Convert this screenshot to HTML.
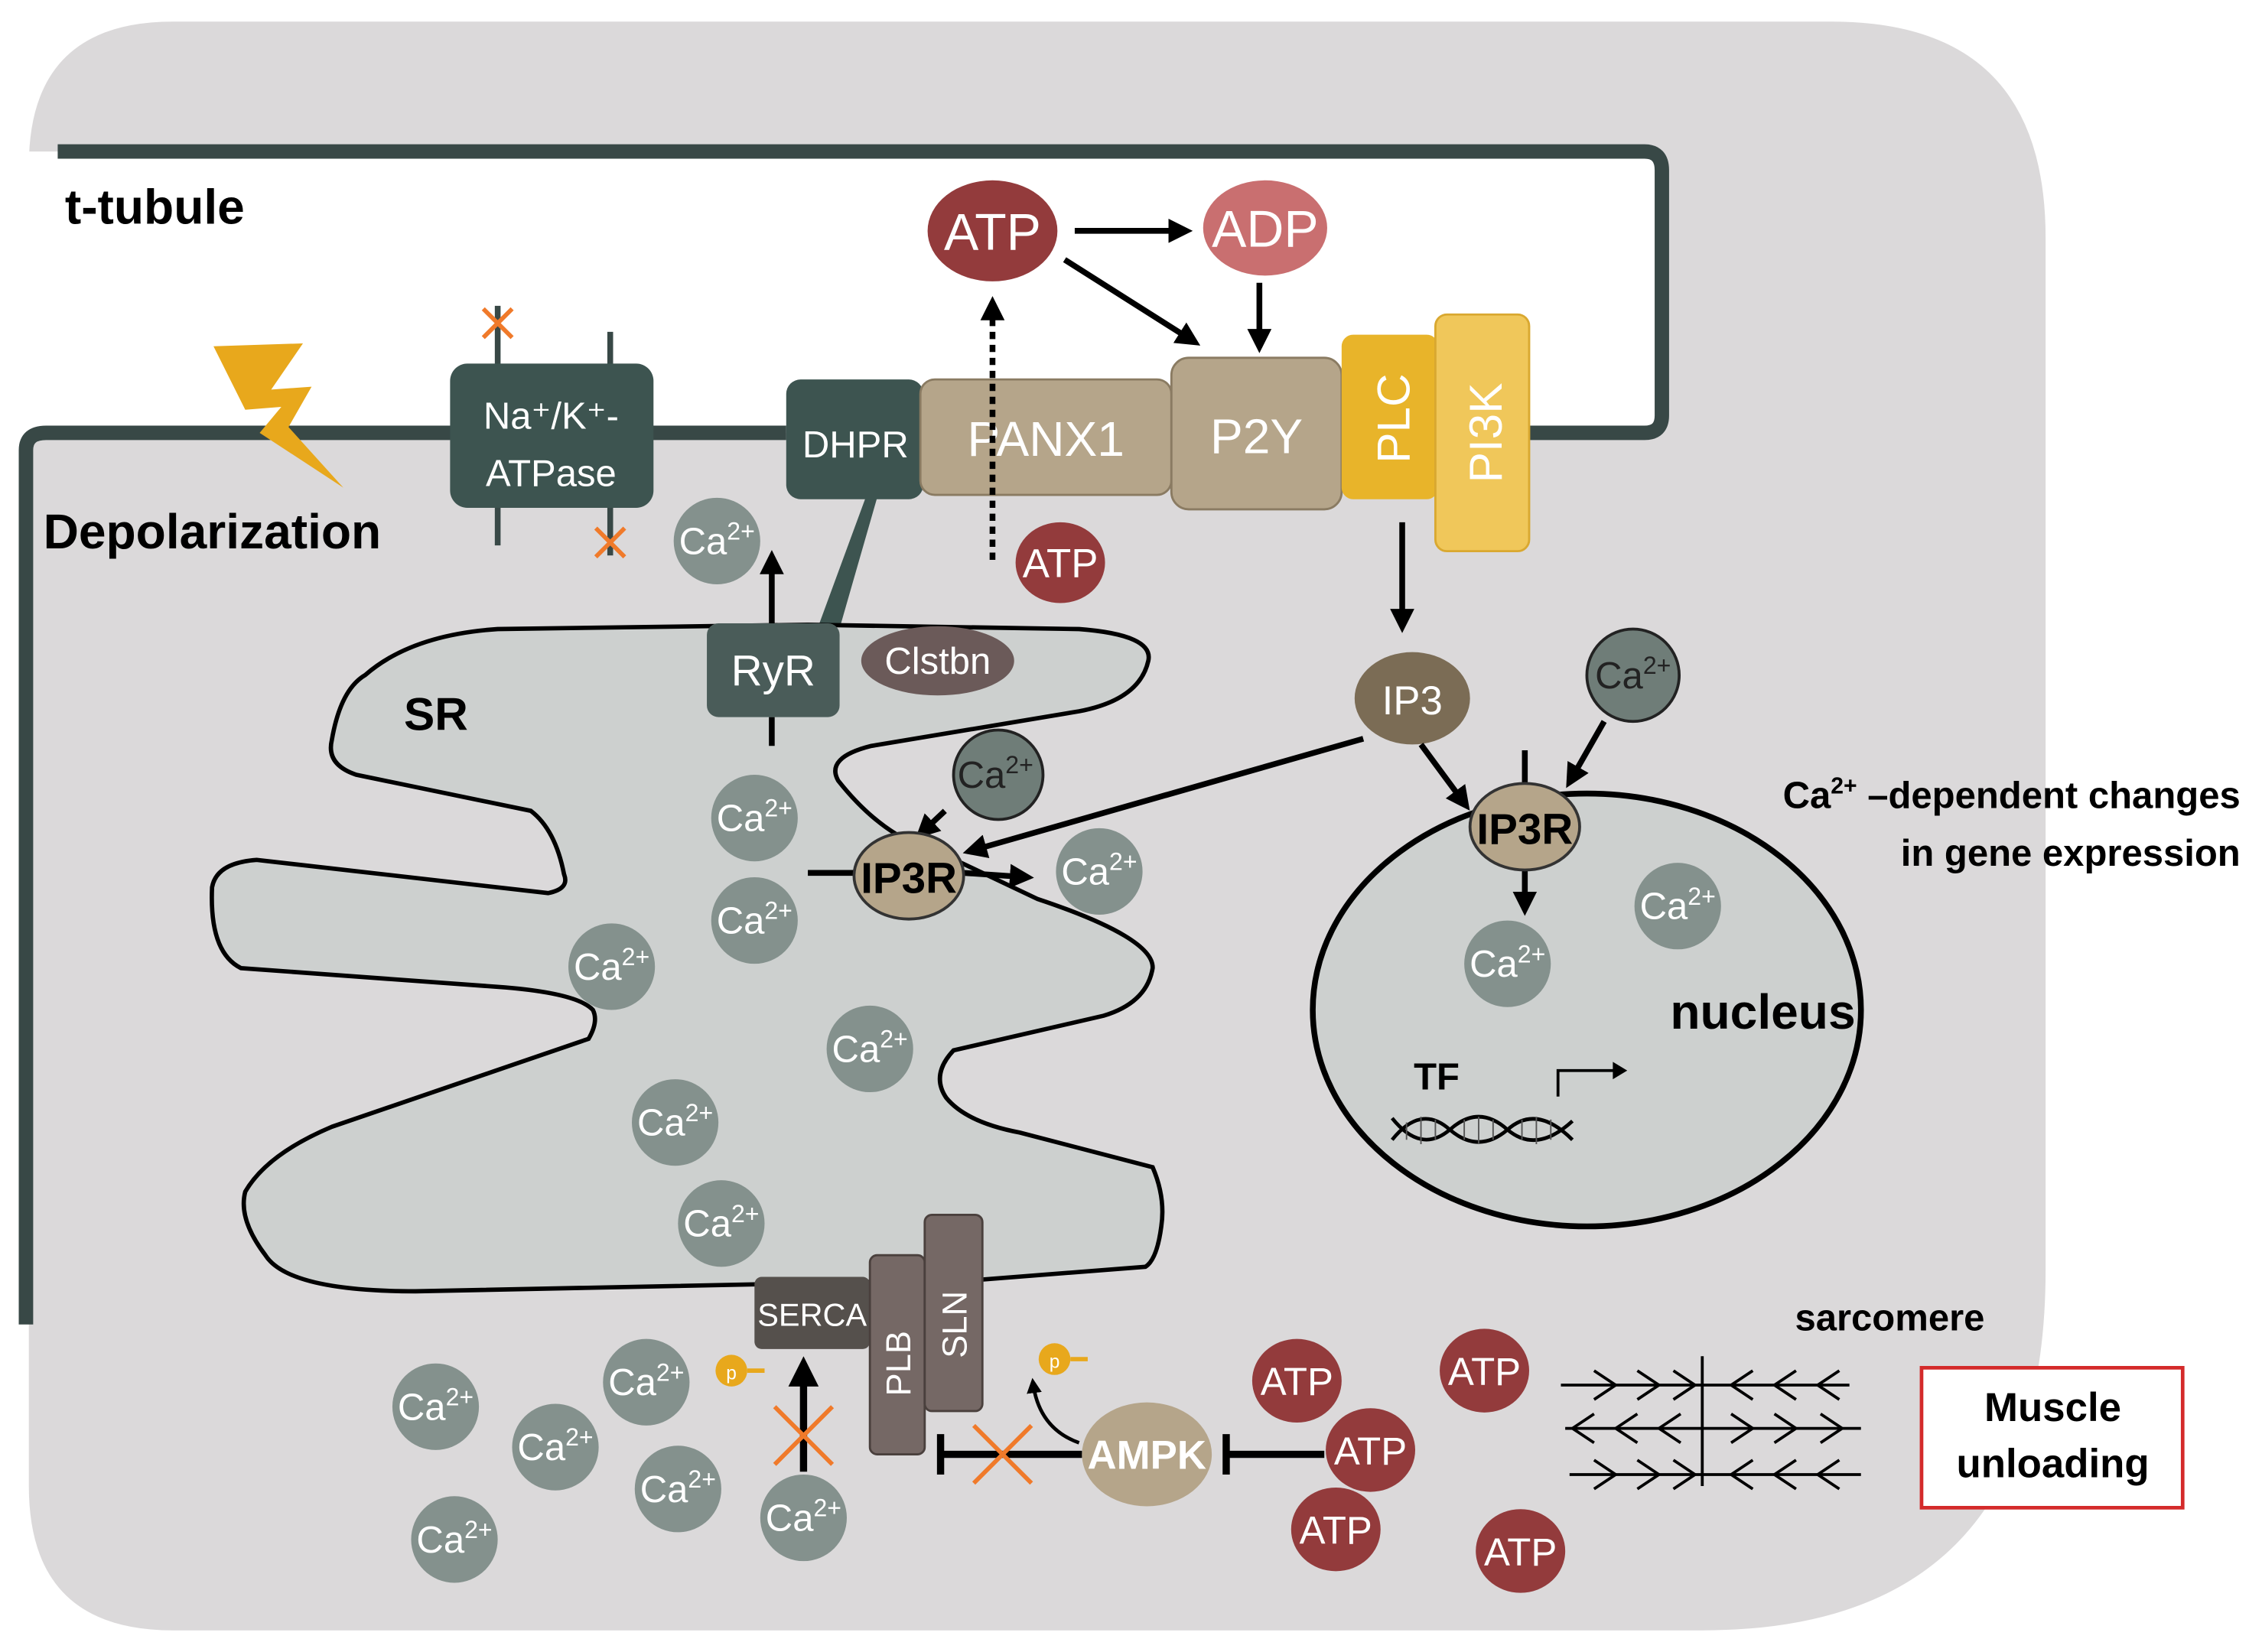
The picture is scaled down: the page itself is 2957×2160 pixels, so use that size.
<!DOCTYPE html>
<html><head><meta charset="utf-8"><style>
html,body{margin:0;padding:0;background:#fff;}
svg{display:block;}
text{font-family:"Liberation Sans",sans-serif;}
</style></head><body>
<svg width="2957" height="2160" viewBox="0 0 1568 1145" preserveAspectRatio="none" xmlns="http://www.w3.org/2000/svg">
<defs>
<marker id="ah" markerWidth="4.2" markerHeight="4.2" refX="3" refY="2.1" orient="auto" markerUnits="strokeWidth"><path d="M0,0 L4.2,2.1 L0,4.2 Z" fill="#000"/></marker>
</defs>
<rect width="1568" height="1145" fill="#fff"/>
<path d="M120,15 L1270,15 Q1418,15 1418,165 L1418,880 Q1418,1130 1180,1130 L120,1130 Q20,1130 20,1030 L20,115 Q20,15 120,15 Z" fill="#dbd9da"/>
<path d="M0,105 L1140,105 Q1152,105 1152,118 L1152,290 Q1152,300 1140,300 L18,300 L18,920 L0,920 Z" fill="#fff"/>
<path d="M40,105 L1140,105 Q1152,105 1152,118 L1152,288 Q1152,300 1140,300 L1060,300" fill="none" stroke="#384846" stroke-width="10"/>
<path d="M18,918 L18,312 Q18,300 32,300 L545,300" fill="none" stroke="#384846" stroke-width="10"/>
<text x="45" y="155" font-size="34" font-weight="bold">t-tubule</text>
<text x="30" y="380" font-size="34" font-weight="bold">Depolarization</text>
<path d="M148,240 L210,238 L188,270 L216,268 L200,296 L238,338 L180,300 L195,282 L170,284 Z" fill="#e8a81c"/>
<line x1="345" y1="212" x2="345" y2="378" stroke="#384846" stroke-width="4"/>
<line x1="423" y1="230" x2="423" y2="385" stroke="#384846" stroke-width="4"/>
<rect x="312" y="252" width="141" height="100" rx="12" fill="#3d5450"/>
<text x="382" y="297" font-size="26" fill="#fff" text-anchor="middle">Na⁺/K⁺-</text>
<text x="382" y="337" font-size="26" fill="#fff" text-anchor="middle">ATPase</text>
<path d="M335,214 L355,234 M355,214 L335,234 M413,366 L433,386 M433,366 L413,386" stroke="#f07a2a" stroke-width="3"/>
<path d="M600,345 L608,345 L583,432 L568,432 Z" fill="#3d5450"/>
<rect x="545" y="263" width="95" height="83" rx="10" fill="#3d5450"/>
<text x="593" y="317" font-size="26" fill="#fff" text-anchor="middle">DHPR</text>
<rect x="638" y="263" width="174" height="80" rx="10" fill="#b5a58a" stroke="#8a7b62" stroke-width="1.5"/>
<text x="725" y="316" font-size="34" fill="#fff" text-anchor="middle">PANX1</text>
<rect x="812" y="248" width="118" height="105" rx="12" fill="#b5a58a" stroke="#8a7b62" stroke-width="1.5"/>
<text x="871" y="314" font-size="34" fill="#fff" text-anchor="middle">P2Y</text>
<rect x="930" y="232" width="67" height="114" rx="8" fill="#e8b42a"/>
<text transform="translate(977,290) rotate(-90)" font-size="32" fill="#fff" text-anchor="middle">PLC</text>
<rect x="995" y="218" width="65" height="164" rx="8" fill="#f0c75a" stroke="#d9a830" stroke-width="1.5"/>
<text transform="translate(1041,300) rotate(-90)" font-size="32" fill="#fff" text-anchor="middle">PI3K</text>
<ellipse cx="688" cy="160" rx="45" ry="35" fill="#933b3c"/>
<text x="688" y="173" font-size="36" fill="#fff" text-anchor="middle">ATP</text>
<ellipse cx="877" cy="158" rx="43" ry="33" fill="#c96f70"/>
<text x="877" y="171" font-size="36" fill="#fff" text-anchor="middle">ADP</text>
<line x1="745" y1="160" x2="822" y2="160" stroke="#000" stroke-width="4" marker-end="url(#ah)"/>
<line x1="738" y1="180" x2="828" y2="237" stroke="#000" stroke-width="4" marker-end="url(#ah)"/>
<line x1="873" y1="196" x2="873" y2="240" stroke="#000" stroke-width="4" marker-end="url(#ah)"/>
<line x1="688" y1="388" x2="688" y2="210" stroke="#000" stroke-width="4" stroke-dasharray="5,4" marker-end="url(#ah)"/>
<ellipse cx="735" cy="390" rx="31" ry="28" fill="#933b3c"/>
<text x="735" y="400" font-size="28" fill="#fff" text-anchor="middle">ATP</text>
<line x1="972" y1="362" x2="972" y2="434" stroke="#000" stroke-width="4" marker-end="url(#ah)"/>
<path d="M345,436 L560,433 L748,436 Q800,440 796,458 Q790,485 748,493 L604,517 Q572,525 581,541 Q600,565 621,578 L660,595 L719,623 Q800,650 799,671 Q795,695 765,704 L661,728 Q645,745 656,761 Q670,778 707,785 L799,809 Q808,830 805,850 Q802,873 794,878 L679,887 L288,895 Q200,895 184,870 Q165,845 170,826 Q185,800 230,781 L408,720 Q415,708 411,700 Q400,688 345,684 L167,671 Q145,660 147,615 Q150,598 178,596 L380,619 Q395,616 391,606 Q385,575 368,562 L247,537 Q226,530 230,513 Q236,478 253,468 Q285,440 345,436 Z" fill="#cdd0cf" stroke="#000" stroke-width="3"/>
<text x="280" y="506" font-size="32" font-weight="bold">SR</text>
<line x1="535" y1="497" x2="535" y2="517" stroke="#000" stroke-width="4"/>
<line x1="535" y1="432" x2="535" y2="386" stroke="#000" stroke-width="4" marker-end="url(#ah)"/>
<rect x="490" y="432" width="92" height="65" rx="8" fill="#4a5c59"/>
<text x="536" y="475" font-size="30" fill="#fff" text-anchor="middle">RyR</text>
<ellipse cx="650" cy="458" rx="53" ry="24" fill="#6b5a59"/>
<text x="650" y="467" font-size="26" fill="#fff" text-anchor="middle">Clstbn</text>
<ellipse cx="979" cy="484" rx="40" ry="32" fill="#7b6c55"/>
<text x="979" y="495" font-size="28" fill="#fff" text-anchor="middle">IP3</text>
<line x1="945" y1="512" x2="672" y2="590" stroke="#000" stroke-width="4" marker-end="url(#ah)"/>
<line x1="985" y1="516" x2="1016" y2="558" stroke="#000" stroke-width="4" marker-end="url(#ah)"/>
<line x1="1112" y1="500" x2="1088" y2="542" stroke="#000" stroke-width="4" marker-end="url(#ah)"/>
<line x1="655" y1="562" x2="638" y2="578" stroke="#000" stroke-width="4" marker-end="url(#ah)"/>
<ellipse cx="1100" cy="700" rx="190" ry="150" fill="#cdd0cf" stroke="#000" stroke-width="4"/>
<text x="1222" y="713" font-size="34" font-weight="bold" text-anchor="middle">nucleus</text>
<text x="980" y="755" font-size="26" font-weight="bold">TF</text>
<path d="M965,775 Q985,800 1005,783 Q1025,765 1045,783 Q1065,800 1090,777 M965,790 Q985,765 1005,783 Q1025,800 1045,783 Q1065,765 1090,790" fill="none" stroke="#000" stroke-width="2.5"/>
<path d="M975,778 L975,790 M985,774 L985,793 M995,776 L995,790 M1015,776 L1015,790 M1025,774 L1025,793 M1035,776 L1035,790 M1055,776 L1055,790 M1065,774 L1065,793 M1075,776 L1075,790" stroke="#555" stroke-width="1"/>
<path d="M1080,760 L1080,742 L1120,742" fill="none" stroke="#000" stroke-width="2"/>
<path d="M1118,736 L1128,742 L1118,748 Z" fill="#000"/>
<line x1="1057" y1="520" x2="1057" y2="545" stroke="#000" stroke-width="4"/>
<line x1="1057" y1="600" x2="1057" y2="630" stroke="#000" stroke-width="4" marker-end="url(#ah)"/>
<ellipse cx="1057" cy="573" rx="38" ry="30" fill="#b5a58a" stroke="#333" stroke-width="2"/>
<text x="1057" y="585" font-size="30" font-weight="bold" text-anchor="middle">IP3R</text>
<line x1="560" y1="605" x2="593" y2="605" stroke="#000" stroke-width="4"/>
<line x1="668" y1="605" x2="712" y2="608" stroke="#000" stroke-width="4" marker-end="url(#ah)"/>
<ellipse cx="630" cy="607" rx="38" ry="30" fill="#b5a58a" stroke="#333" stroke-width="2"/>
<text x="630" y="619" font-size="30" font-weight="bold" text-anchor="middle">IP3R</text>
<g fill="#84918d">
<circle cx="497" cy="375" r="30"/><circle cx="523" cy="567" r="30"/><circle cx="523" cy="638" r="30"/>
<circle cx="424" cy="670" r="30"/><circle cx="603" cy="727" r="30"/><circle cx="468" cy="778" r="30"/>
<circle cx="500" cy="848" r="30"/><circle cx="762" cy="604" r="30"/><circle cx="1163" cy="628" r="30"/>
<circle cx="1045" cy="668" r="30"/><circle cx="302" cy="975" r="30"/><circle cx="385" cy="1003" r="30"/>
<circle cx="448" cy="958" r="30"/><circle cx="470" cy="1032" r="30"/><circle cx="315" cy="1067" r="30"/>
<circle cx="557" cy="1052" r="30"/>
</g>
<g fill="#6f7d78" stroke="#222" stroke-width="2"><circle cx="692" cy="537" r="31"/><circle cx="1132" cy="468" r="32"/></g>
<g font-size="26" fill="#fff" text-anchor="middle">
<text x="497" y="384">Ca<tspan font-size="17" dy="-10">2+</tspan></text>
<text x="523" y="576">Ca<tspan font-size="17" dy="-10">2+</tspan></text>
<text x="523" y="647">Ca<tspan font-size="17" dy="-10">2+</tspan></text>
<text x="424" y="679">Ca<tspan font-size="17" dy="-10">2+</tspan></text>
<text x="603" y="736">Ca<tspan font-size="17" dy="-10">2+</tspan></text>
<text x="468" y="787">Ca<tspan font-size="17" dy="-10">2+</tspan></text>
<text x="500" y="857">Ca<tspan font-size="17" dy="-10">2+</tspan></text>
<text x="762" y="613">Ca<tspan font-size="17" dy="-10">2+</tspan></text>
<text x="1163" y="637">Ca<tspan font-size="17" dy="-10">2+</tspan></text>
<text x="1045" y="677">Ca<tspan font-size="17" dy="-10">2+</tspan></text>
<text x="302" y="984">Ca<tspan font-size="17" dy="-10">2+</tspan></text>
<text x="385" y="1012">Ca<tspan font-size="17" dy="-10">2+</tspan></text>
<text x="448" y="967">Ca<tspan font-size="17" dy="-10">2+</tspan></text>
<text x="470" y="1041">Ca<tspan font-size="17" dy="-10">2+</tspan></text>
<text x="315" y="1076">Ca<tspan font-size="17" dy="-10">2+</tspan></text>
<text x="557" y="1061">Ca<tspan font-size="17" dy="-10">2+</tspan></text>
</g>
<g font-size="26" fill="#222" text-anchor="middle">
<text x="690" y="546">Ca<tspan font-size="17" dy="-10">2+</tspan></text>
<text x="1132" y="477">Ca<tspan font-size="17" dy="-10">2+</tspan></text>
</g>
<text x="1553" y="560" font-size="26" font-weight="bold" text-anchor="end">Ca<tspan font-size="16" dy="-10">2+</tspan><tspan dy="10"> –dependent changes</tspan></text>
<text x="1553" y="600" font-size="26" font-weight="bold" text-anchor="end">in gene expression</text>
<rect x="523" y="885" width="80" height="50" rx="5" fill="#55504c"/>
<text x="563" y="919" font-size="22" fill="#fff" text-anchor="middle">SERCA</text>
<rect x="603" y="870" width="38" height="138" rx="5" fill="#756865" stroke="#4a403d" stroke-width="1.5"/>
<text transform="translate(631,945) rotate(-90)" font-size="24" fill="#fff" text-anchor="middle">PLB</text>
<rect x="641" y="842" width="40" height="136" rx="5" fill="#756865" stroke="#4a403d" stroke-width="1.5"/>
<text transform="translate(670,918) rotate(-90)" font-size="24" fill="#fff" text-anchor="middle">SLN</text>
<line x1="557" y1="1020" x2="557" y2="946" stroke="#000" stroke-width="5" marker-end="url(#ah)"/>
<path d="M537,975 L577,1015 M577,975 L537,1015" stroke="#f07a2a" stroke-width="3"/>
<circle cx="507" cy="950" r="11" fill="#e8a81c"/><text x="507" y="956" font-size="13" fill="#fff" text-anchor="middle">p</text>
<line x1="518" y1="950" x2="530" y2="950" stroke="#e8a81c" stroke-width="3"/>
<circle cx="731" cy="942" r="11" fill="#e8a81c"/><text x="731" y="948" font-size="13" fill="#fff" text-anchor="middle">p</text>
<line x1="742" y1="942" x2="754" y2="942" stroke="#e8a81c" stroke-width="3"/>
<path d="M748,1000 Q720,990 716,958" fill="none" stroke="#000" stroke-width="2.5" marker-end="url(#ah)"/>
<line x1="652" y1="1008" x2="750" y2="1008" stroke="#000" stroke-width="5"/>
<line x1="652" y1="994" x2="652" y2="1022" stroke="#000" stroke-width="5"/>
<path d="M675,988 L715,1028 M715,988 L675,1028" stroke="#f07a2a" stroke-width="3"/>
<ellipse cx="795" cy="1008" rx="45" ry="36" fill="#b5a58a"/>
<text x="795" y="1018" font-size="28" font-weight="bold" fill="#fff" text-anchor="middle">AMPK</text>
<line x1="850" y1="1008" x2="918" y2="1008" stroke="#000" stroke-width="5"/>
<line x1="850" y1="994" x2="850" y2="1022" stroke="#000" stroke-width="5"/>
<g fill="#933b3c"><ellipse cx="899" cy="957" rx="31" ry="29"/><ellipse cx="1029" cy="950" rx="31" ry="29"/><ellipse cx="950" cy="1005" rx="31" ry="29"/><ellipse cx="926" cy="1060" rx="31" ry="29"/><ellipse cx="1054" cy="1075" rx="31" ry="29"/></g>
<g font-size="27" fill="#fff" text-anchor="middle"><text x="899" y="967">ATP</text><text x="1029" y="960">ATP</text><text x="950" y="1015">ATP</text><text x="926" y="1070">ATP</text><text x="1054" y="1085">ATP</text></g>
<text x="1310" y="922" font-size="26" font-weight="bold" text-anchor="middle">sarcomere</text>
<g stroke="#000" stroke-width="2" fill="none">
<line x1="1180" y1="940" x2="1180" y2="1030"/>
<line x1="1082" y1="960" x2="1282" y2="960"/><line x1="1085" y1="990" x2="1290" y2="990"/><line x1="1088" y1="1022" x2="1290" y2="1022"/>
<path d="M1105,950 L1120,960 L1105,970 M1135,950 L1150,960 L1135,970 M1160,950 L1175,960 L1160,970 M1215,950 L1200,960 L1215,970 M1245,950 L1230,960 L1245,970 M1275,950 L1260,960 L1275,970"/>
<path d="M1105,980 L1090,990 L1105,1000 M1135,980 L1120,990 L1135,1000 M1165,980 L1150,990 L1165,1000 M1200,980 L1215,990 L1200,1000 M1230,980 L1245,990 L1230,1000 M1262,980 L1277,990 L1262,1000"/>
<path d="M1105,1012 L1120,1022 L1105,1032 M1135,1012 L1150,1022 L1135,1032 M1160,1012 L1175,1022 L1160,1032 M1215,1012 L1200,1022 L1215,1032 M1245,1012 L1230,1022 L1245,1032 M1275,1012 L1260,1022 L1275,1032"/>
</g>
<rect x="1332" y="948" width="181" height="97" fill="#fff" stroke="#d42a2a" stroke-width="2.5"/>
<text x="1423" y="985" font-size="28" font-weight="bold" text-anchor="middle">Muscle</text>
<text x="1423" y="1024" font-size="28" font-weight="bold" text-anchor="middle">unloading</text>
</svg>
</body></html>
